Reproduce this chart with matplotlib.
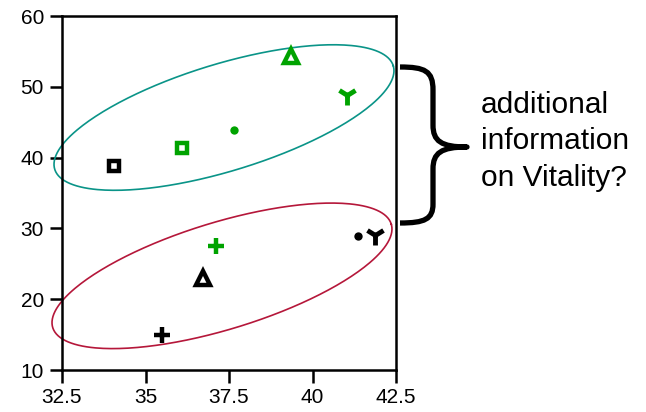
import numpy as np
import matplotlib
matplotlib.use('Agg')
import matplotlib.pyplot as plt
from matplotlib.path import Path
from matplotlib.patches import PathPatch

plt.rcParams['font.family'] = ['Liberation Sans', 'DejaVu Sans']

# data
shapes = ['square', 'dot', 'triangle', 'Y', 'plus']
green_x = [36.1, 37.65, 39.35, 41.03, 37.11]
green_y = [41.3, 43.9, 54.35, 48.8, 27.5]
black_x = [34.07, 41.36, 36.73, 41.87, 35.48]
black_y = [38.86, 28.9, 22.95, 29.1, 14.94]

xticks = [32.5, 35, 37.5, 40, 42.5]
xticklabels = ['32.5', '35', '37.5', '40', '42.5']
yticks = [10, 20, 30, 40, 50, 60]

# groups circled by ellipses (centre in data units)
ell_cx = [37.35, 37.29]
ell_cy = [45.66, 23.3]
ell_colors = ['#0a9488', '#b5173a']

note = 'additional\ninformation\non Vitality?'

# marker style per shape: (marker, size, edge width, hollow)
style = {
    'square': ('s', 7.4, 3.2, True),
    'dot': ('o', 6, 0, False),
    'triangle': ('^', 9.5, 3.2, True),
    'Y': ('1', 14, 3.5, False),
    'plus': ('+', 11, 3.2, False),
}

W, H = 646, 412
fig = plt.figure(figsize=(W / 100, H / 100), dpi=100)
ax = fig.add_axes([62 / W, 1 - 370 / H, 334 / W, 354 / H])
ax.set_xlim(32.5, 42.5)
ax.set_ylim(10, 60)

for sp in ax.spines.values():
    sp.set_linewidth(1.8)
ax.set_xticks(xticks)
ax.set_xticklabels(xticklabels)
ax.set_yticks(yticks)
ax.tick_params(direction='out', length=9, width=1.8, labelsize=15, pad=4)

# ellipses, drawn in pixel space so the tilt looks right
fig.canvas.draw()
t = np.linspace(0, 2 * np.pi, 300)
a, b, ang = 177, 53.5, np.radians(17)
for cx, cy, col in zip(ell_cx, ell_cy, ell_colors):
    px, py = ax.transData.transform((cx, cy))
    ex = px + a * np.cos(t) * np.cos(ang) - b * np.sin(t) * np.sin(ang)
    ey = py + a * np.cos(t) * np.sin(ang) + b * np.sin(t) * np.cos(ang)
    d = ax.transData.inverted().transform(np.column_stack([ex, ey]))
    ax.plot(d[:, 0], d[:, 1], color=col, lw=1.2, zorder=2, clip_on=False)

for xs, ys, col in [(green_x, green_y, '#00a300'), (black_x, black_y, 'black')]:
    for s, x, y in zip(shapes, xs, ys):
        m, ms, mew, hollow = style[s]
        ax.plot(x, y, marker=m, ms=ms, mew=mew, color=col,
                mfc='white' if hollow else col, mec=col, ls='none', zorder=3)

# curly brace in figure pixels
def fp(x, y):
    return (x / W, 1 - y / H)

verts = [fp(400, 67), fp(425, 67), fp(433, 71), fp(433, 90),
         fp(433, 125),
         fp(433, 141), fp(441, 147), fp(467, 147),
         fp(441, 147), fp(433, 153), fp(433, 169),
         fp(433, 204),
         fp(433, 219), fp(425, 223), fp(400, 223)]
codes = [Path.MOVETO, Path.CURVE4, Path.CURVE4, Path.CURVE4,
         Path.LINETO,
         Path.CURVE4, Path.CURVE4, Path.CURVE4,
         Path.CURVE4, Path.CURVE4, Path.CURVE4,
         Path.LINETO,
         Path.CURVE4, Path.CURVE4, Path.CURVE4]
fig.patches.append(PathPatch(Path(verts, codes), transform=fig.transFigure,
                             fill=False, lw=3.8, color='black',
                             capstyle='butt', joinstyle='round'))

fig.text(481 / W, 1 - 91 / H, note, fontsize=21.5, va='top', ha='left',
         linespacing=1.38)

fig.savefig('out.png', dpi=100)
